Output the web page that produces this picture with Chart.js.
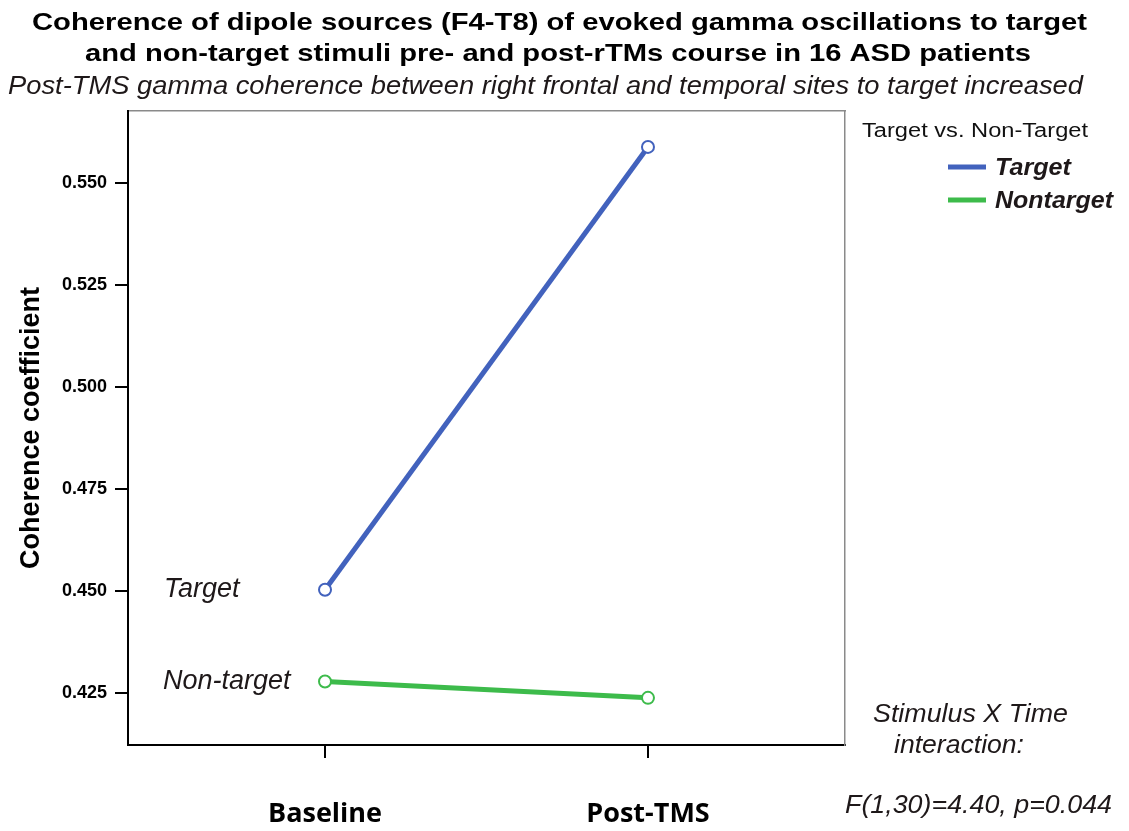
<!DOCTYPE html>
<html>
<head>
<meta charset="utf-8">
<script src="https://cdn.jsdelivr.net/npm/chart.js@4/dist/chart.umd.min.js"></script>
<style>
  html, body { margin: 0; padding: 0; background: #fff; }
  #wrap { width: 1129px; height: 831px; }
</style>
</head>
<body>
<div id="wrap"><canvas id="grafico"></canvas></div>
<script>
// datos
const categorias = ['Baseline', 'Post-TMS'];
const target = [0.4503, 0.5588];
const nonTarget = [0.4278, 0.4238];
const etiquetasSerie = ['Target', 'Nontarget'];
const etiquetasLinea = ['Target', 'Non-target'];
const ticksY = [0.425, 0.450, 0.475, 0.500, 0.525, 0.550];
const tituloLineas = [
    'Coherence of dipole sources (F4-T8) of evoked gamma oscillations to target',
    'and non-target stimuli pre- and post-rTMs course in 16 ASD patients'
];
const subtitulo = 'Post-TMS gamma coherence between right frontal and temporal sites to target increased';
const tituloLeyenda = 'Target vs. Non-Target';
const notaInteraccion = ['Stimulus X Time', 'interaction:', 'F(1,30)=4.40, p=0.044'];

const AZUL = '#4262bd';
const VERDE = '#3dbb4b';
const TEXTO = '#1e1819';
const FUENTE = '"Liberation Sans", Arial, sans-serif';

function aPuntos(valores) {
    return valores.map((v, i) => ({ x: i, y: v }));
}

// texto estirado en horizontal hasta el ancho pedido (la figura original esta estirada)
function textoEstirado(ctx, texto, x, y, ancho) {
    const w = ctx.measureText(texto).width;
    ctx.save();
    ctx.translate(x, y);
    ctx.scale(ancho / w, 1);
    ctx.textAlign = 'left';
    ctx.fillText(texto, 0, 0);
    ctx.restore();
}

const anotaciones = {
    id: 'anotaciones',
    afterDraw(chart) {
        const ctx = chart.ctx;
        const yScale = chart.scales.y;
        ctx.save();
        ctx.textBaseline = 'alphabetic';

        // titulo y subtitulo
        ctx.fillStyle = '#000';
        ctx.font = 'bold 24px ' + FUENTE;
        textoEstirado(ctx, tituloLineas[0], 32, 30, 1055);
        textoEstirado(ctx, tituloLineas[1], 85, 61, 946);
        ctx.fillStyle = TEXTO;
        ctx.font = 'italic 25px ' + FUENTE;
        textoEstirado(ctx, subtitulo, 8, 94, 1075);

        // etiquetas junto a la primera medicion
        ctx.font = 'italic 27px ' + FUENTE;
        ctx.textBaseline = 'middle';
        ctx.textAlign = 'left';
        ctx.fillText(etiquetasLinea[0], 164, yScale.getPixelForValue(target[0]));
        ctx.fillText(etiquetasLinea[1], 163, yScale.getPixelForValue(nonTarget[0]));

        // leyenda
        ctx.textBaseline = 'alphabetic';
        ctx.font = '20px ' + FUENTE;
        ctx.fillStyle = '#111';
        textoEstirado(ctx, tituloLeyenda, 862, 137, 226);
        chart.data.datasets.forEach((ds, i) => {
            const y = 167 + i * 33;
            ctx.strokeStyle = ds.borderColor;
            ctx.lineWidth = 5;
            ctx.beginPath();
            ctx.moveTo(948, y);
            ctx.lineTo(986, y);
            ctx.stroke();
            ctx.fillStyle = TEXTO;
            ctx.font = 'italic bold 24px ' + FUENTE;
            textoEstirado(ctx, ds.label, 995, y + 8, i === 0 ? 76 : 118);
        });

        // nota de interaccion
        ctx.font = 'italic 25px ' + FUENTE;
        textoEstirado(ctx, notaInteraccion[0], 873, 722, 195);
        textoEstirado(ctx, notaInteraccion[1], 894, 753, 130);
        textoEstirado(ctx, notaInteraccion[2], 845, 813, 267);
        ctx.restore();
    }
};

const ctx = document.getElementById('grafico').getContext('2d');
new Chart(ctx, {
    type: 'line',
    data: {
        datasets: [{
            label: etiquetasSerie[0],
            data: aPuntos(target),
            borderColor: AZUL,
            backgroundColor: '#fff',
            borderWidth: 5,
            pointRadius: 6,
            pointBorderWidth: 2,
            pointBackgroundColor: '#fff',
            fill: false
        }, {
            label: etiquetasSerie[1],
            data: aPuntos(nonTarget),
            borderColor: VERDE,
            backgroundColor: '#fff',
            borderWidth: 5,
            pointRadius: 6,
            pointBorderWidth: 2,
            pointBackgroundColor: '#fff',
            fill: false
        }]
    },
    options: {
        responsive: true,
        maintainAspectRatio: false,
        animation: false,
        layout: { padding: { top: 111, left: 0, right: 0, bottom: 0 } },
        plugins: {
            legend: { display: false },
            tooltip: { enabled: false },
            title: { display: false }
        },
        scales: {
            x: {
                type: 'linear',
                position: 'bottom',
                min: -0.61,
                max: 1.61,
                afterBuildTicks: s => { s.ticks = categorias.map((c, i) => ({ value: i })); },
                afterFit: s => { s.height = 86; },
                grid: { drawOnChartArea: false, tickLength: 13, tickColor: '#000', lineWidth: 2 },
                border: { color: '#000', width: 2 },
                ticks: {
                    padding: 40,
                    color: '#000',
                    font: { family: '"Open Sans", sans-serif', size: 27, weight: 'bold' },
                    callback: v => categorias[v]
                }
            },
            x2: {
                type: 'linear',
                position: 'top',
                min: 0, max: 1,
                afterFit: s => { s.height = 0; },
                grid: { display: false },
                ticks: { display: false },
                border: { color: '#8a8a8a', width: 1.5 }
            },
            y: {
                min: 0.41225,
                max: 0.5676,
                afterBuildTicks: s => { s.ticks = ticksY.map(v => ({ value: v })); },
                afterFit: s => { s.width = 128; },
                grid: { drawOnChartArea: false, tickLength: 13, tickColor: '#000', lineWidth: 2 },
                border: { color: '#000', width: 2 },
                ticks: {
                    padding: 8,
                    color: '#000',
                    font: { family: FUENTE, size: 18, weight: 'bold' },
                    callback: v => v.toFixed(3)
                },
                title: {
                    display: true,
                    text: 'Coherence coefficient',
                    color: '#000',
                    font: { family: FUENTE, size: 27, weight: 'bold', lineHeight: 1.2 },
                    padding: { top: 15, bottom: 0 }
                }
            },
            y2: {
                type: 'linear',
                position: 'right',
                min: 0, max: 1,
                afterFit: s => { s.width = 284; },
                grid: { display: false },
                ticks: { display: false },
                border: { color: '#8a8a8a', width: 1.5 }
            }
        }
    },
    plugins: [anotaciones]
});
</script>
</body>
</html>
